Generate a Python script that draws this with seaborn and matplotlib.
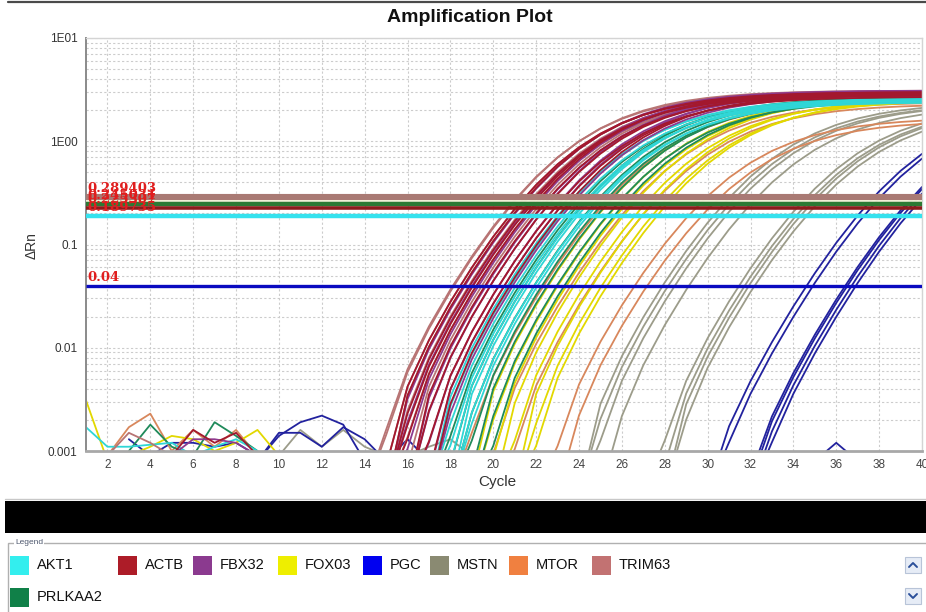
import numpy as np
import pandas as pd
import matplotlib
matplotlib.use("Agg")
import matplotlib.pyplot as plt
from matplotlib.patches import Rectangle
from matplotlib.lines import Line2D
from matplotlib.ticker import LogLocator, NullFormatter, FixedLocator
import seaborn as sns

# ---------------------------------------------------------------- data
cycles = np.arange(1, 41)

genes = ["AKT1", "ACTB", "FBX32", "FOX03", "PGC", "MSTN", "MTOR", "TRIM63", "PRLKAA2"]
# residual left after baseline subtraction, per gene (same order as genes)
base_resid = [0.002, 0.002, 0.002, 0.002, 0.0006, 0.0015, 0.0015, 0.002, 0.002]

# inflection cycle and plateau dRn of every well
mid_trim63 = [24.9, 25.0, 25.2, 25.4, 25.6, 25.9, 26.2]
top_trim63 = [3.0, 3.1, 2.9, 3.0, 2.9, 2.8, 2.9]
mid_actb = [25.2, 25.4, 25.6, 25.8, 26.0, 26.3, 26.6, 26.9, 27.2, 27.5]
top_actb = [2.9, 3.0, 2.8, 2.9, 3.0, 2.8, 2.9, 2.7, 2.8, 2.9]
mid_fbx32 = [25.5, 25.8, 26.1, 26.4, 26.7, 27.0, 27.3, 27.6]
top_fbx32 = [3.1, 3.0, 3.0, 2.9, 3.1, 2.9, 3.0, 2.8]
mid_akt1 = [27.2, 27.4, 27.6, 27.8, 28.0, 28.2, 28.4, 28.6]
top_akt1 = [2.5, 2.6, 2.5, 2.4, 2.5, 2.6, 2.4, 2.5]
mid_prlkaa2 = [27.8, 28.1, 28.5, 28.8, 29.1, 29.5, 29.9]
top_prlkaa2 = [2.6, 2.7, 2.6, 2.5, 2.6, 2.5, 2.6]
mid_fox03 = [29.2, 29.6, 30.0, 30.4, 30.8, 31.2, 31.6, 31.9]
top_fox03 = [2.7, 2.6, 2.6, 2.7, 2.5, 2.6, 2.5, 2.6]
mid_mtor = [28.9, 30.1, 31.0, 32.6, 33.1]
top_mtor = [2.5, 2.4, 2.3, 1.7, 1.6]
mid_mstn = [34.4, 34.6, 34.9, 35.5, 37.9, 38.1, 38.3, 38.5]
top_mstn = [2.4, 2.3, 2.3, 2.2, 2.3, 2.2, 2.2, 2.1]
mid_pgc = [41.2, 41.5, 43.0, 43.1, 43.3, 43.5]
top_pgc = [2.5, 2.5, 2.5, 2.5, 2.5, 2.5]

# baseline readings before amplification: (gene, first cycle, dRn values)
baseline_traces = [
    ("FOX03", 1, [0.0031, 0.0008, 0.0009, 0.0011, 0.0014, 0.0013, 0.0010, 0.0012, 0.0016, 0.0009]),
    ("AKT1", 1, [0.0017, 0.0011, 0.0011, 0.00115, 0.0012, 0.0009, 0.0011, 0.0013, 0.0010]),
    ("MTOR", 2, [0.0009, 0.0017, 0.0023, 0.0010, 0.0016, 0.0011, 0.0016, 0.0009]),
    ("PRLKAA2", 3, [0.0010, 0.0018, 0.0011, 0.0009, 0.0019, 0.0014, 0.0010]),
    ("PGC", 9, [0.0008, 0.0014, 0.0019, 0.0022, 0.0018, 0.0008]),
    ("PGC", 9, [0.0008, 0.0015, 0.0015, 0.0011, 0.0017, 0.0013, 0.0008]),
    ("PGC", 3, [0.0013, 0.0009, 0.0012, 0.0012, 0.0011, 0.0012, 0.0009]),
    ("PGC", 15, [0.0008, 0.0013, 0.0008]),
    ("PGC", 35, [0.0008, 0.0012, 0.0008]),
    ("MSTN", 10, [0.0009, 0.0016, 0.0011, 0.0016, 0.0011, 0.0009]),
    ("MSTN", 16, [0.0009, 0.0011, 0.0013, 0.0009]),
    ("FBX32", 5, [0.0009, 0.0013, 0.0013, 0.0012, 0.0009]),
    ("ACTB", 5, [0.0009, 0.0016, 0.0012, 0.0015, 0.0009]),
    ("TRIM63", 2, [0.0009, 0.0015, 0.0012, 0.0009]),
]

# threshold per gene
thr_genes = ["TRIM63", "FOX03", "PRLKAA2", "ACTB", "AKT1", "PGC"]
thr_values = [0.289403, 0.262417, 0.245031, 0.225307, 0.189735, 0.04]

# ---------------------------------------------------------------- styles
curve_colors = {
    "AKT1": "#2fd6d6", "ACTB": "#a3182e", "FBX32": "#8e3a8e", "FOX03": "#e2d800",
    "PGC": "#22229e", "MSTN": "#9c9c8a", "MTOR": "#d8875c", "TRIM63": "#b87474",
    "PRLKAA2": "#1f8a5a",
}
legend_colors = {
    "AKT1": "#33eeee", "ACTB": "#ad1c28", "FBX32": "#8b3a8f", "FOX03": "#eeee00",
    "PGC": "#0000f0", "MSTN": "#8a8a72", "MTOR": "#f08040", "TRIM63": "#c27272",
    "PRLKAA2": "#108048",
}
thr_style = {
    "TRIM63": ("#a97a74", 4.4), "FOX03": ("#f2f0d6", 1.4), "PRLKAA2": ("#2c7a34", 3.2),
    "ACTB": ("#8c1c1c", 2.6), "AKT1": ("#34e2ee", 3.2), "PGC": ("#0a0ac0", 2.4),
}
draw_order = ["MSTN", "PGC", "MTOR", "FOX03", "PRLKAA2", "AKT1", "TRIM63", "FBX32", "ACTB"]

# ---------------------------------------------------------------- tidy table
mids = {"TRIM63": mid_trim63, "ACTB": mid_actb, "FBX32": mid_fbx32, "AKT1": mid_akt1,
        "PRLKAA2": mid_prlkaa2, "FOX03": mid_fox03, "MTOR": mid_mtor,
        "MSTN": mid_mstn, "PGC": mid_pgc}
tops = {"TRIM63": top_trim63, "ACTB": top_actb, "FBX32": top_fbx32, "AKT1": top_akt1,
        "PRLKAA2": top_prlkaa2, "FOX03": top_fox03, "MTOR": top_mtor,
        "MSTN": top_mstn, "PGC": top_pgc}
resid = dict(zip(genes, base_resid))

# Richards growth curve minus the baseline residual
growth_width = 2.8
shape_nu = 0.4
floor_value = 0.0004   # sub-axis readings are held here so traces enter from below

rows = []
for g in genes:
    for i, (m, t) in enumerate(zip(mids[g], tops[g])):
        drn = t * (1.0 + shape_nu * np.exp(-(cycles - m) / growth_width)) ** (-1.0 / shape_nu)
        drn = np.maximum(drn - resid[g], floor_value)
        for c, v in zip(cycles, drn):
            rows.append((g, f"{g}_{i}", c, v))
for j, (g, start, vals) in enumerate(baseline_traces):
    for k, v in enumerate(vals):
        rows.append((g, f"base_{j}", start + k, v))
df = pd.DataFrame(rows, columns=["gene", "well", "cycle", "dRn"])

# ---------------------------------------------------------------- figure
sns.set_style("white")
plt.rcParams["font.family"] = ["Liberation Sans", "DejaVu Sans"]

W, H = 926, 612
fig = plt.figure(figsize=(W / 100, H / 100), dpi=100)


def fx(x):
    return x / W


def fy(y):
    return 1 - y / H


ax = fig.add_axes([fx(86), fy(451), fx(922) - fx(86), fy(38) - fy(451)])
ax.set_yscale("log")

sns.lineplot(data=df, x="cycle", y="dRn", hue="gene", units="well", estimator=None,
             hue_order=draw_order, palette=curve_colors, linewidth=1.3,
             legend=False, ax=ax, zorder=2)

for g, v in zip(thr_genes, thr_values):
    col, lw = thr_style[g]
    ax.axhline(v, color=col, lw=lw, zorder=3, solid_capstyle="butt")
for g, v in zip(thr_genes, thr_values):
    if g == "FOX03":
        continue
    ax.annotate(f"{v:g}", xy=(1.05, v), xytext=(0, 1.5), textcoords="offset points",
                ha="left", va="bottom", color="#e01e1e", fontsize=9.5,
                fontweight="bold", family=["DejaVu Serif"], zorder=4)

ax.set_xlim(1, 40)
ax.set_ylim(0.001, 10)
ax.set_xticks(np.arange(2, 41, 2))
ax.set_xticklabels([str(t) for t in range(2, 41, 2)])
ax.yaxis.set_major_locator(FixedLocator([0.001, 0.01, 0.1, 1, 10]))
ax.set_yticklabels(["0.001", "0.01", "0.1", "1E00", "1E01"])
ax.yaxis.set_minor_locator(LogLocator(base=10, subs=np.arange(2, 10)))
ax.yaxis.set_minor_formatter(NullFormatter())
ax.tick_params(axis="y", which="major", length=4, color="#808080", labelsize=8.5,
               labelcolor="#333333", pad=2)
ax.tick_params(axis="y", which="minor", length=0)
ax.tick_params(axis="x", length=0, labelsize=8.5, labelcolor="#444444", pad=6)
ax.set_xlabel("")
ax.set_ylabel("")

grid_kw = dict(color="#cccccc", linestyle=(0, (2, 2)), linewidth=0.8)
ax.grid(True, axis="x", which="major", **grid_kw)
ax.grid(True, axis="y", which="both", **grid_kw)
ax.set_axisbelow(True)

for s in ["top", "right"]:
    ax.spines[s].set_color("#d4d4d4")
    ax.spines[s].set_linewidth(1.0)
ax.spines["left"].set_color("#8a8a8a")
ax.spines["left"].set_linewidth(1.4)
ax.spines["bottom"].set_color("#a8a8a8")
ax.spines["bottom"].set_linewidth(2.0)

# titles and axis names
fig.text(fx(470), fy(18), "Amplification Plot", ha="center", va="center",
         fontsize=14, fontweight="bold", color="#111111")
fig.text(fx(32), fy(246), "ΔRn", rotation=90, ha="center", va="center",
         fontsize=10, color="#333333")
fig.text(fx(497), fy(482), "Cycle", ha="center", va="center",
         fontsize=11, color="#333333")
fig.add_artist(Line2D([fx(8), 1], [fy(2), fy(2)], color="#4a4a4a", lw=1.6))

# dark band and legend panel
fig.add_artist(Rectangle((fx(5), fy(533)), 1 - fx(5), fy(501) - fy(533),
                         facecolor="black", edgecolor="none"))
fig.add_artist(Line2D([fx(5), 1], [fy(499), fy(499)], color="#c8c8c8", lw=1))
fig.add_artist(Rectangle((fx(8), fy(640)), 1.0, fy(543) - fy(640), facecolor="white",
                         edgecolor="#b0b0b0", lw=1))
fig.text(fx(15), fy(543), "Legend", ha="left", va="center", fontsize=6,
         color="#505a70", bbox=dict(facecolor="white", edgecolor="none", pad=0.5))

legend_rows = [
    [("AKT1", 10), ("ACTB", 118), ("FBX32", 193), ("FOX03", 278), ("PGC", 363),
     ("MSTN", 430), ("MTOR", 509), ("TRIM63", 592)],
    [("PRLKAA2", 10)],
]
for row_y, entries in zip([565, 597], legend_rows):
    for g, x0 in entries:
        fig.add_artist(Rectangle((fx(x0), fy(row_y + 10)), fx(19), fy(row_y - 9) - fy(row_y + 10),
                                 facecolor=legend_colors[g], edgecolor="none"))
        fig.text(fx(x0 + 27), fy(row_y), g, ha="left", va="center", fontsize=10.5,
                 color="#111111", family=["Liberation Sans Narrow", "Liberation Sans"])

# scroll buttons: up arrow on top, down arrow below
for yc, up in [(565, True), (596, False)]:
    fig.add_artist(Rectangle((fx(905), fy(yc + 8)), fx(16), fy(yc - 8) - fy(yc + 8),
                             facecolor="#e6ecf6", edgecolor="#b8c4d8", lw=0.8))
    tip = yc - 2 if up else yc + 2
    ends = yc + 2 if up else yc - 2
    fig.add_artist(Line2D([fx(909), fx(913), fx(917)], [fy(ends), fy(tip), fy(ends)],
                          color="#2a4f9a", lw=1.4))

fig.savefig("out.png", dpi=100, facecolor="white")
